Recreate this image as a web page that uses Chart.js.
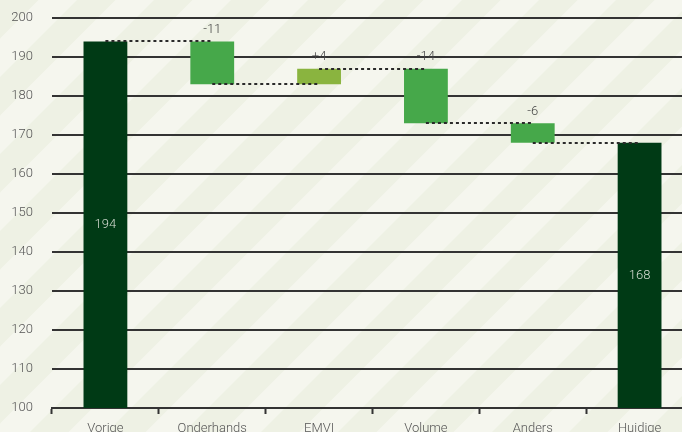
<!DOCTYPE html>
<html>
<head>
<meta charset="utf-8">
<script src="https://cdn.jsdelivr.net/npm/chart.js@4"></script>
<style>
  html, body { margin: 0; padding: 0; overflow: hidden; background: #f5f6ee; }
  #wrap { width: 700px; height: 450px; }
</style>
</head>
<body>
<div id="wrap"><canvas id="myChart" width="700" height="450"></canvas></div>
<script>
// categories on the x axis
const categories = ['Vorige', 'Onderhands', 'EMVI', 'Volume', 'Anders', 'Huidige'];
// running level after each step (first = start total, last = end total)
const levels = [194, 183, 187, 173, 168];
// printed labels
const changeLabels = ['-11', '+4', '-14', '-6'];
const totalLabels = ['194', '168'];
const yTicks = [100, 110, 120, 130, 140, 150, 160, 170, 180, 190, 200];

const darkGreen = '#003a15';
const green = '#46a84a';
const olive = '#8ab43f';

// build floating bars from the levels
let barData = [];
let barColors = [];
barData.push([100, levels[0]]);
barColors.push(darkGreen);
for (let i = 1; i < levels.length; i++) {
    barData.push([levels[i - 1], levels[i]]);
    barColors.push(levels[i] > levels[i - 1] ? olive : green);
}
barData.push([100, levels[levels.length - 1]]);
barColors.push(darkGreen);

// diagonal striped background over the whole canvas
const stripes = {
    id: 'stripes',
    beforeDraw(chart) {
        const ctx = chart.ctx;
        const w = chart.width, h = chart.height;
        ctx.save();
        ctx.fillStyle = '#f5f6ee';
        ctx.fillRect(0, 0, w, h);
        ctx.fillStyle = '#eef1e4';
        const period = 77;
        for (let x = -h - period; x < w + period; x += period) {
            ctx.beginPath();
            ctx.moveTo(x, h);
            ctx.lineTo(x + period / 2, h);
            ctx.lineTo(x + period / 2 + h, 0);
            ctx.lineTo(x + h, 0);
            ctx.closePath();
            ctx.fill();
        }
        ctx.restore();
    }
};

// dotted connectors and the value labels
const waterfallExtras = {
    id: 'waterfallExtras',
    afterDatasetsDraw(chart) {
        const ctx = chart.ctx;
        const meta = chart.getDatasetMeta(0);
        const y = chart.scales.y;
        ctx.save();
        ctx.strokeStyle = '#2a2a2a';
        ctx.lineWidth = 2;
        ctx.setLineDash([3, 3]);
        for (let i = 0; i < levels.length; i++) {
            const py = Math.round(y.getPixelForValue(levels[i]));
            ctx.beginPath();
            ctx.moveTo(meta.data[i].x, py);
            ctx.lineTo(meta.data[i + 1].x, py);
            ctx.stroke();
        }
        ctx.setLineDash([]);

        ctx.font = '300 13px Roboto';
        ctx.textAlign = 'center';
        ctx.textBaseline = 'middle';
        // totals inside the dark bars
        ctx.fillStyle = '#d6ddd3';
        [0, categories.length - 1].forEach((idx, k) => {
            const bar = meta.data[idx];
            ctx.fillText(totalLabels[k], bar.x, (bar.y + bar.base) / 2);
        });
        // changes above the floating bars
        ctx.fillStyle = '#444';
        for (let i = 1; i < levels.length; i++) {
            const bar = meta.data[i];
            const top = Math.min(bar.y, bar.base);
            ctx.fillText(changeLabels[i - 1], bar.x, top - 12);
        }
        ctx.restore();
    }
};

const data = {
    labels: categories,
    datasets: [{
        data: barData,
        backgroundColor: barColors,
        borderWidth: 0,
        borderSkipped: false,
        barPercentage: 0.41,
        categoryPercentage: 1
    }]
};

const config = {
    type: 'bar',
    data: data,
    options: {
        responsive: false,
        animation: false,
        layout: { padding: { top: 18, right: 7, left: 0, bottom: 0 } },
        plugins: {
            legend: { display: false },
            tooltip: { enabled: false }
        },
        scales: {
            x: {
                offset: true,
                grid: {
                    offset: true,
                    drawOnChartArea: false,
                    drawTicks: true,
                    tickLength: 6,
                    tickWidth: 2,
                    color: '#333'
                },
                border: { display: true, color: '#333', width: 2 },
                ticks: {
                    color: '#555',
                    font: { family: 'Roboto', size: 13, weight: '300' },
                    padding: 7,
                    maxRotation: 0
                },
                afterFit(scale) { scale.height = 42; }
            },
            y: {
                min: 100,
                max: 200,
                afterBuildTicks(scale) {
                    scale.ticks = yTicks.map(v => ({ value: v }));
                },
                grid: {
                    color: '#333',
                    lineWidth: 2,
                    drawTicks: true,
                    tickLength: 19,
                    tickColor: 'rgba(0,0,0,0)'
                },
                border: { display: false },
                ticks: {
                    color: '#555',
                    font: { family: 'Roboto', size: 13, weight: '300' },
                    padding: 0
                },
                afterFit(scale) { scale.width = 52; }
            }
        }
    },
    plugins: [stripes, waterfallExtras]
};

const myChart = new Chart(document.getElementById('myChart'), config);
</script>
</body>
</html>
